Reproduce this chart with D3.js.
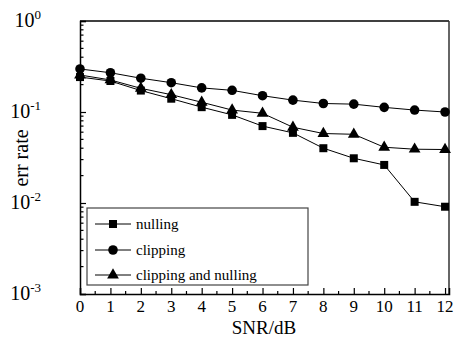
<!DOCTYPE html>
<html>
<head>
<meta charset="utf-8">
<script src="https://cdn.jsdelivr.net/npm/d3@7/dist/d3.min.js"></script>
<style>
  html, body { margin: 0; padding: 0; background: #fff; }
  svg { display: block; }
  svg text { font-family: "Liberation Serif", "Times New Roman", "DejaVu Serif", serif; }
</style>
</head>
<body>
<svg id="chart" width="468" height="338"></svg>
<script>
// ---- data ----
const snr = [0, 1, 2, 3, 4, 5, 6, 7, 8, 9, 10, 11, 12];
const nulling = [0.242, 0.219, 0.172, 0.140, 0.113, 0.093, 0.070, 0.059, 0.040, 0.031, 0.0262, 0.0103, 0.0091];
const clipping = [0.297, 0.270, 0.235, 0.210, 0.184, 0.173, 0.151, 0.135, 0.124, 0.122, 0.1125, 0.105, 0.100];
const clipNull = [0.255, 0.225, 0.182, 0.155, 0.128, 0.105, 0.0968, 0.068, 0.058, 0.0569, 0.041, 0.039, 0.0387];
const seriesNames = ["nulling", "clipping", "clipping and nulling"];
const xTicks = [0, 1, 2, 3, 4, 5, 6, 7, 8, 9, 10, 11, 12];
const yExponents = [0, -1, -2, -3];
const xLabel = "SNR/dB";
const yLabel = "err rate";

// ---- layout ----
const svg = d3.select("#chart");
const L = 80, R = 449, T = 21, B = 294;
const x = d3.scaleLinear().domain([0, 12.13]).range([L, R]);
const y = d3.scaleLog().domain([1e-3, 1]).range([B, T]);

// axis frame
const frame = svg.append("g");
frame.append("line").attr("x1", L).attr("x2", R).attr("y1", T).attr("y2", T).attr("stroke", "#000").attr("stroke-width", 1.5);
frame.append("line").attr("x1", R).attr("x2", R).attr("y1", T).attr("y2", B).attr("stroke", "#333").attr("stroke-width", 1.5);

// bottom axis: ticks inside
const xMinor = d3.range(0.5, 12, 1);
const gx = svg.append("g").attr("transform", `translate(0,${B})`);
gx.call(d3.axisBottom(x).tickValues(xTicks).tickSize(-6).tickPadding(0).tickFormat(() => ""));
gx.attr("font-family", null).attr("font-size", null);
gx.select(".domain").attr("stroke-width", 1.5);
gx.selectAll(".tick line").attr("stroke-width", 1.2);
gx.append("g").selectAll("line").data(xMinor).join("line")
  .attr("x1", d => x(d)).attr("x2", d => x(d)).attr("y1", 0).attr("y2", -3)
  .attr("stroke", "#000").attr("stroke-width", 1.2);
gx.append("g").selectAll("text").data(xTicks).join("text")
  .attr("x", d => x(d)).attr("y", 18).attr("text-anchor", "middle")
  .attr("fill", "#000").attr("font-size", 17).text(d => d);

// left axis: ticks inside
const yMinor = [];
[-3, -2, -1].forEach(e => { for (let k = 2; k <= 9; k++) yMinor.push(k * Math.pow(10, e)); });
const gy = svg.append("g").attr("transform", `translate(${L},0)`);
gy.call(d3.axisLeft(y).tickValues(yExponents.map(e => Math.pow(10, e))).tickSize(-6).tickFormat(() => ""));
gy.attr("font-family", null).attr("font-size", null);
gy.select(".domain").attr("stroke-width", 1.5);
gy.selectAll(".tick line").attr("stroke-width", 1.2);
gy.append("g").selectAll("line").data(yMinor).join("line")
  .attr("x1", 0).attr("x2", 3.5).attr("y1", d => y(d)).attr("y2", d => y(d))
  .attr("stroke", "#000").attr("stroke-width", 1.2);
const yl = gy.append("g").selectAll("text").data(yExponents).join("text")
  .attr("x", -39).attr("y", d => y(Math.pow(10, d)) + 6)
  .attr("fill", "#000").attr("font-size", 20);
yl.append("tspan").text("10");
yl.append("tspan").attr("dy", -8).attr("font-size", 13).text(d => String(d));

// axis titles
svg.append("text").attr("x", 264).attr("y", 333.5).attr("text-anchor", "middle")
  .attr("fill", "#000").attr("font-size", 19).text(xLabel);
svg.append("text").attr("transform", "translate(28,158) rotate(-90)")
  .attr("text-anchor", "middle").attr("fill", "#000").attr("font-size", 20).text(yLabel);

// series
const series = [
  { name: seriesNames[0], values: nulling, shape: d3.symbolSquare, size: 64 },
  { name: seriesNames[1], values: clipping, shape: d3.symbolCircle, size: 72 },
  { name: seriesNames[2], values: clipNull, shape: d3.symbolTriangle, size: 60 }
];
const line = d3.line().x((d, i) => x(snr[i])).y(d => y(d));
const plot = svg.append("g");
series.forEach(s => {
  plot.append("path").attr("d", line(s.values)).attr("fill", "none")
    .attr("stroke", "#000").attr("stroke-width", 1);
  plot.append("g").selectAll("path").data(s.values).join("path")
    .attr("transform", (d, i) => `translate(${x(snr[i])},${y(d)})`)
    .attr("d", d3.symbol().type(s.shape).size(s.size)).attr("fill", "#000");
});

// legend
const lg = svg.append("g");
lg.append("rect").attr("x", 87).attr("y", 208).attr("width", 221).attr("height", 77)
  .attr("fill", "#fff").attr("stroke", "#444").attr("stroke-width", 1.2);
const ly = [224, 250, 275];
series.forEach((s, i) => {
  lg.append("line").attr("x1", 95).attr("x2", 131).attr("y1", ly[i]).attr("y2", ly[i])
    .attr("stroke", "#000").attr("stroke-width", 1);
  lg.append("path").attr("transform", `translate(113,${ly[i]})`)
    .attr("d", d3.symbol().type(s.shape).size(s.size)).attr("fill", "#000");
  lg.append("text").attr("x", 136).attr("y", ly[i] + 5).attr("fill", "#000")
    .attr("font-size", 15).text(s.name);
});
</script>
</body>
</html>
